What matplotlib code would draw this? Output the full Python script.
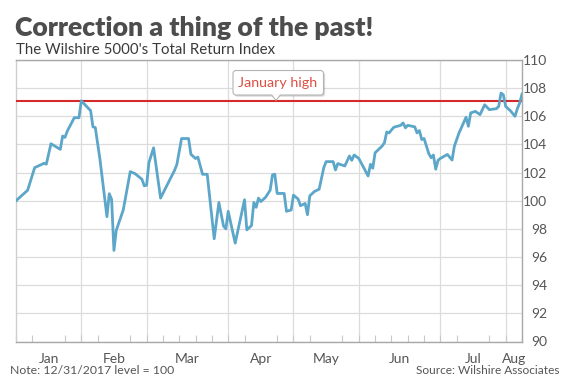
import matplotlib
matplotlib.use("Agg")
import matplotlib.pyplot as plt
import matplotlib.patheffects as pe
import matplotlib.transforms as mtransforms
import matplotlib.dates as mdates
from matplotlib.patches import FancyBboxPatch, Polygon
import pandas as pd

# ---------------- data ----------------
dates = [
    "2017-12-29", "2018-01-03", "2018-01-06", "2018-01-10", "2018-01-11", "2018-01-13",
    "2018-01-17", "2018-01-18", "2018-01-19", "2018-01-20", "2018-01-23", "2018-01-25",
    "2018-01-26", "2018-01-30", "2018-01-31", "2018-02-01", "2018-02-03", "2018-02-06",
    "2018-02-07", "2018-02-08", "2018-02-09", "2018-02-10", "2018-02-13", "2018-02-16",
    "2018-02-18", "2018-02-21", "2018-02-22", "2018-02-23", "2018-02-24", "2018-02-26",
    "2018-03-01", "2018-03-04", "2018-03-07", "2018-03-08", "2018-03-10", "2018-03-13",
    "2018-03-14", "2018-03-16", "2018-03-17", "2018-03-19", "2018-03-21", "2018-03-24",
    "2018-03-26", "2018-03-28", "2018-03-29", "2018-03-30", "2018-04-02", "2018-04-06",
    "2018-04-07", "2018-04-09", "2018-04-10", "2018-04-11", "2018-04-12", "2018-04-13",
    "2018-04-15", "2018-04-17", "2018-04-18", "2018-04-19", "2018-04-20", "2018-04-23",
    "2018-04-24", "2018-04-26", "2018-04-27", "2018-04-29", "2018-04-30", "2018-05-02",
    "2018-05-03", "2018-05-04", "2018-05-06", "2018-05-08", "2018-05-10", "2018-05-11",
    "2018-05-14", "2018-05-15", "2018-05-16", "2018-05-19", "2018-05-21", "2018-05-22",
    "2018-05-23", "2018-05-25", "2018-05-29", "2018-05-30", "2018-05-31", "2018-06-01",
    "2018-06-04", "2018-06-05", "2018-06-06", "2018-06-07", "2018-06-09", "2018-06-12",
    "2018-06-13", "2018-06-14", "2018-06-15", "2018-06-18", "2018-06-19", "2018-06-20",
    "2018-06-21", "2018-06-22", "2018-06-24", "2018-06-25", "2018-06-26", "2018-06-27",
    "2018-06-28", "2018-06-29", "2018-07-02", "2018-07-04", "2018-07-05", "2018-07-07",
    "2018-07-10", "2018-07-11", "2018-07-12", "2018-07-14", "2018-07-16", "2018-07-18",
    "2018-07-20", "2018-07-23", "2018-07-24", "2018-07-25", "2018-07-26", "2018-07-27",
    "2018-07-29", "2018-07-31", "2018-08-01", "2018-08-02", "2018-08-03",
]
values = [
    100.0, 100.75, 102.35, 102.66, 102.6, 104.05,
    103.65, 104.6, 104.5, 104.95, 105.9, 105.9,
    107.1, 106.4, 105.25, 105.2, 102.95, 98.87,
    100.5, 100.1, 96.47, 97.9, 99.35, 102.07,
    101.93, 101.53, 101.06, 101.1, 102.7, 103.76,
    100.19, 101.18, 102.16, 102.59, 104.42, 104.42,
    103.3, 103.0, 103.1, 101.88, 101.88, 97.3,
    99.88, 98.2, 98.0, 99.25, 96.99, 100.07,
    97.93, 98.24, 99.88, 99.53, 100.19, 99.94,
    100.24, 100.75, 101.84, 101.88, 100.52, 100.52,
    99.25, 99.34, 100.4, 100.12, 99.65, 99.81,
    99.01, 100.35, 100.66, 100.82, 102.35, 102.78,
    102.78, 102.19, 102.64, 102.47, 103.18, 102.87,
    103.25, 103.01, 101.76, 102.59, 102.31, 103.41,
    103.88, 104.12, 104.89, 104.82, 105.22, 105.36,
    105.53, 105.18, 105.36, 105.25, 104.82, 104.99,
    104.35, 104.42, 103.36, 103.06, 103.25, 102.24,
    102.87, 103.01, 103.29, 102.89, 103.88, 104.82,
    105.93, 105.29, 106.24, 106.35, 106.12, 106.82,
    106.47, 106.54, 106.7, 107.65, 107.53, 106.7,
    106.4, 106.0, 106.54, 106.94, 107.58,
]
january_high = 107.1
month_labels = ["Jan", "Feb", "Mar", "Apr", "May", "Jun", "Jul", "Aug"]
# week-ending Fridays that separate the months on the axis
month_bounds = ["2017-12-29", "2018-01-26", "2018-02-23", "2018-03-30", "2018-04-27",
                "2018-05-25", "2018-06-29", "2018-07-27", "2018-08-03"]
y_ticks = [90, 92, 94, 96, 98, 100, 102, 104, 106, 108, 110]

title = "Correction a thing of the past!"
subtitle = "The Wilshire 5000's Total Return Index"
note = "Note: 12/31/2017 level = 100"
source = "Source: Wilshire Associates"
annotation = "January high"
annotation_date = "2018-04-19 12:00"

# ---------------- style ----------------
plt.rcParams["font.family"] = ["Lato", "DejaVu Sans"]
LINE = "#5ba6c9"
RED = "#d42a2a"
GRID = "#dcdcdc"
TXT = "#4d4d4d"

x = pd.to_datetime(dates)
bounds = pd.to_datetime(month_bounds)

fig = plt.figure(figsize=(5.65, 3.77), dpi=100)
ax = fig.add_axes([16 / 565, 1 - 341.5 / 377, (522 - 16) / 565, (341.5 - 60) / 377])

ax.set_xlim(bounds[0], bounds[-1])
ax.set_ylim(90, 110)

# horizontal grid
ax.set_yticks(y_ticks)
ax.yaxis.grid(True, color=GRID, lw=0.9)
ax.set_axisbelow(True)
# month separators
ax.vlines(bounds[1:-1], 90, 110, color=GRID, lw=0.9, zorder=0)

# weekly minor ticks
weeks = pd.date_range(bounds[0], bounds[-1], freq="W-FRI")
ax.set_xticks(weeks, minor=True)
ax.tick_params(axis="x", which="minor", direction="in", length=5, color="#c8c8c8", width=0.8)

# month labels centred between separators
mids = [bounds[i] + (bounds[i + 1] - bounds[i]) / 2 for i in range(len(bounds) - 1)]
ax.set_xticks(mids)
ax.set_xticklabels(month_labels)
ax.tick_params(axis="x", which="major", length=0, pad=8, labelsize=10, labelcolor="#555555")

# y axis on right
ax.yaxis.tick_right()
ax.tick_params(axis="y", length=0, pad=18, labelsize=10, labelcolor="#555555")
for lab in ax.get_yticklabels():
    lab.set_horizontalalignment("right")

for s in ["top", "right", "bottom"]:
    ax.spines[s].set_color("#a8a8a8")
    ax.spines[s].set_linewidth(1.0)
ax.spines["left"].set_color("#cfcfcf")
ax.spines["left"].set_linewidth(1.0)

# red january high line
ax.axhline(january_high, color=RED, lw=1.5, zorder=3)

# data line
ax.plot(x, values, color=LINE, lw=2.0, zorder=4, solid_joinstyle="round")

# annotation callout anchored on the red line (sizes in inches at 100 dpi)
ann_x = mdates.date2num(pd.Timestamp(annotation_date))
anchor = fig.dpi_scale_trans + mtransforms.ScaledTranslation(ann_x, january_high, ax.transData)
box = FancyBboxPatch((-0.43, 0.058), 0.905, 0.245, boxstyle="round,pad=0,rounding_size=0.03",
                     fc="white", ec="#b4b4b4", lw=0.8, transform=anchor, zorder=6, clip_on=False)
box.set_path_effects([pe.SimplePatchShadow(offset=(1.2, -1.2), alpha=0.22), pe.Normal()])
ax.add_patch(box)
notch_fill = Polygon([(-0.045, 0.066), (0.045, 0.066), (0.0, 0.005)], closed=True, fc="white",
                     ec="none", transform=anchor, zorder=7, clip_on=False)
ax.add_patch(notch_fill)
notch_edge = Polygon([(-0.045, 0.058), (0.0, 0.005), (0.045, 0.058)], closed=False, fill=False,
                     ec="#b4b4b4", lw=0.8, transform=anchor, zorder=8, clip_on=False)
ax.add_patch(notch_edge)
ax.text(0.0175, 0.178, annotation, color="#dc4f43", fontsize=10.3, ha="center", va="center",
        transform=anchor, zorder=9)

# titles and notes
fig.text(15 / 565, 1 - 36.5 / 377, title, fontsize=19.2, fontweight="heavy", color=TXT, ha="left",
         va="baseline")
fig.text(16 / 565, 1 - 53.5 / 377, subtitle, fontsize=10.8, color="#3a3a3a", ha="left",
         va="baseline")
fig.text(10 / 565, 1 - 374 / 377, note, fontsize=8.8, color="#555555", ha="left", va="baseline")
fig.text(559 / 565, 1 - 374 / 377, source, fontsize=8.6, color="#555555", ha="right",
         va="baseline")

fig.savefig("out.png", dpi=100)
